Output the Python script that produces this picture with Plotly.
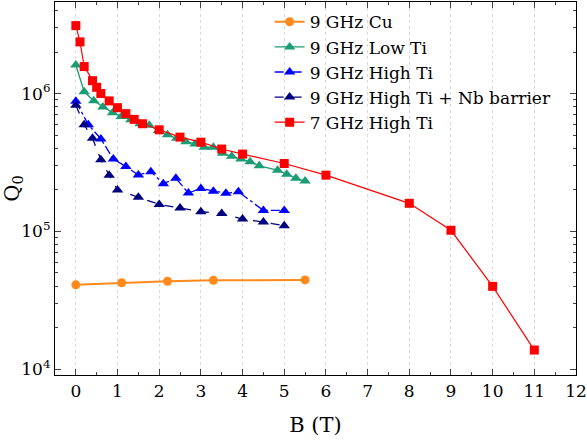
import plotly.graph_objects as go

# ---- data ----
cu_B = [0, 1.1, 2.2, 3.3, 5.5]
cu_Q = [4.1e4, 4.25e4, 4.35e4, 4.42e4, 4.45e4]

lowti_B = [0, 0.2, 0.43, 0.65, 0.88, 1.09, 1.32, 1.54, 1.76, 1.98, 2.2, 2.42, 2.64,
           2.86, 3.08, 3.3, 3.52, 3.74, 3.96, 4.18, 4.4, 4.84, 5.06, 5.28, 5.5]
lowti_Q = [1.61e6, 1.03e6, 8.86e5, 8.0e5, 7.27e5, 6.83e5, 6.46e5, 6.04e5, 5.89e5, 5.4e5,
           5.02e5, 4.74e5, 4.48e5, 4.31e5, 4.08e5, 4.08e5, 3.69e5, 3.51e5, 3.35e5, 3.2e5,
           2.99e5, 2.78e5, 2.6e5, 2.43e5, 2.32e5]

highti_B = [0, 0.3, 0.6, 0.9, 1.2, 1.5, 1.8, 2.1, 2.4, 2.7, 3.0, 3.3, 3.6, 3.9, 4.5, 5.0]
highti_Q = [8.79e5, 5.94e5, 4.69e5, 3.35e5, 2.96e5, 2.57e5, 2.71e5, 2.22e5, 2.43e5, 1.9e5,
            2.05e5, 1.96e5, 1.89e5, 1.94e5, 1.42e5, 1.42e5]

nb_B = [0, 0.2, 0.4, 0.6, 0.8, 1.0, 1.5, 2.0, 2.5, 3.0, 3.5, 4.0, 4.5, 5.0]
nb_Q = [8.22e5, 5.94e5, 4.74e5, 3.31e5, 2.56e5, 2.0e5, 1.77e5, 1.57e5, 1.48e5, 1.39e5,
        1.35e5, 1.23e5, 1.17e5, 1.1e5]

ghz7_B = [0, 0.1, 0.2, 0.4, 0.5, 0.6, 0.8, 1.0, 1.2, 1.4, 1.6, 2.0, 2.5, 3.0, 3.5, 4.0,
          5.0, 6, 8, 9, 10, 11]
ghz7_Q = [3.11e6, 2.37e6, 1.57e6, 1.24e6, 1.11e6, 1.0e6, 8.85e5, 7.9e5, 7.15e5, 6.5e5,
          6.04e5, 5.46e5, 4.83e5, 4.44e5, 3.96e5, 3.64e5, 3.11e5, 2.56e5, 1.6e5, 1.02e5,
          4.0e4, 1.38e4]

x_ticks = list(range(0, 13))
y_tickvals = [1e4, 1e5, 1e6]
y_ticktext = ["10<sup>4</sup>", "10<sup>5</sup>", "10<sup>6</sup>"]
y_minor = [m * 10 ** e for e in (4, 5, 6) for m in range(2, 10)]

FONT = "DejaVu Serif, Open Sans"

fig = go.Figure()
fig.add_trace(go.Scatter(x=cu_B, y=cu_Q, name="9 GHz Cu", mode="lines+markers",
                         line=dict(color="#ff8a1c", width=2),
                         marker=dict(symbol="circle", size=9, color="#ff8a1c")))
fig.add_trace(go.Scatter(x=lowti_B, y=lowti_Q, name="9 GHz Low Ti", mode="lines+markers",
                         line=dict(color="#1a9c74", width=1.3),
                         marker=dict(symbol="triangle-up", size=10, color="#1a9c74")))
fig.add_trace(go.Scatter(x=highti_B, y=highti_Q, name="9 GHz High Ti", mode="lines+markers",
                         line=dict(color="#0000ff", width=1.3, dash="dashdot"),
                         marker=dict(symbol="triangle-up", size=10, color="#0000ff")))
fig.add_trace(go.Scatter(x=nb_B, y=nb_Q, name="9 GHz High Ti + Nb barrier", mode="lines+markers",
                         line=dict(color="#000080", width=1.3, dash="dash"),
                         marker=dict(symbol="triangle-up", size=10, color="#000080")))
fig.add_trace(go.Scatter(x=ghz7_B, y=ghz7_Q, name="7 GHz High Ti", mode="lines+markers",
                         line=dict(color="#ff0000", width=1.2),
                         marker=dict(symbol="square", size=9, color="#ff0000")))

fig.update_layout(
    width=587, height=446,
    margin=dict(l=55, r=11, t=2, b=71, autoexpand=False),
    paper_bgcolor="white", plot_bgcolor="white",
    font=dict(family=FONT, size=17, color="black"),
    legend=dict(x=0.412, y=0.994, xanchor="left", yanchor="top",
                bgcolor="rgba(0,0,0,0)", font=dict(family=FONT, size=17), tracegroupgap=0),
    showlegend=True,
)
fig.update_xaxes(
    range=[-0.5, 12], tickvals=x_ticks, ticks="inside", ticklen=6, tickwidth=1,
    ticklabeloverflow="allow",
    showline=True, linecolor="black", linewidth=1.2, mirror="allticks",
    showgrid=True, gridcolor="#d9d9d9", griddash="dot", gridwidth=1, zeroline=False,
    minor=dict(dtick=0.5, ticks="inside", ticklen=3, showgrid=False),
    title=dict(text="B (T)", font=dict(family=FONT, size=21), standoff=17),
    tickfont=dict(family=FONT, size=17),
)
fig.update_yaxes(
    type="log", range=[3.959, 6.664], tickvals=y_tickvals, ticktext=y_ticktext,
    ticks="inside", ticklen=6, tickwidth=1,
    showline=True, linecolor="black", linewidth=1.2, mirror="allticks",
    showgrid=False, zeroline=False,
    minor=dict(tickvals=y_minor, ticks="inside", ticklen=3, showgrid=False),
    title=dict(text="Q<sub>0</sub>", font=dict(family=FONT, size=21), standoff=0),
    tickfont=dict(family=FONT, size=17),
)

fig.write_html("out.html", config={"displayModeBar": False},
               post_script="document.body.style.margin='0';")
